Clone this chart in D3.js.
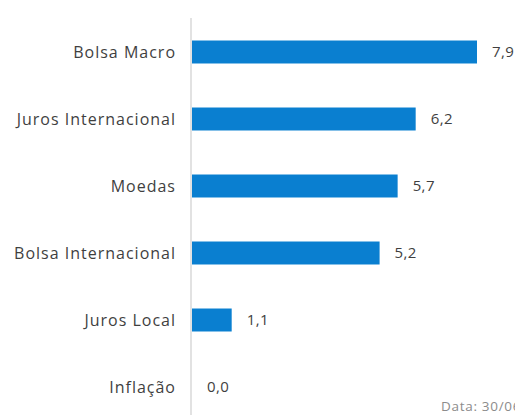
<!DOCTYPE html>
<html><head><meta charset="utf-8">
<script src="https://cdn.jsdelivr.net/npm/d3@7"></script>
<style>html,body{margin:0;padding:0;background:#fff;overflow:hidden}</style>
</head><body>
<svg id="c" width="515" height="415"></svg>
<script>
const categories = ["Bolsa Macro","Juros Internacional","Moedas","Bolsa Internacional","Juros Local","Inflação"];
const values = [7.9, 6.2, 5.7, 5.2, 1.1, 0.0];
const footnote = "Data: 30/06/2023";

const svg = d3.select("#c");
const font = "'Open Sans', sans-serif";
const x = d3.scaleLinear().domain([0, 7.9]).range([192, 477]);
const y = d3.scaleBand().domain(categories).range([18.5, 420.5]).paddingInner(0.657).paddingOuter(0.3285);

svg.selectAll("rect.bar").data(categories).enter().append("rect")
  .attr("class","bar")
  .attr("x", x(0))
  .attr("y", d => y(d))
  .attr("width", (d,i) => x(values[i]) - x(0))
  .attr("height", y.bandwidth())
  .attr("fill", "#0a7fd0");

svg.append("line").attr("x1",191).attr("x2",191).attr("y1",18).attr("y2",415)
  .attr("stroke","#d9d9d9").attr("stroke-width",1.5);

svg.selectAll("text.cat").data(categories).enter().append("text")
  .attr("class","cat")
  .attr("x", 176)
  .attr("y", d => y(d) + y.bandwidth()/2)
  .attr("dy","0.36em")
  .attr("text-anchor","end")
  .attr("font-family", font).attr("font-size", 16).attr("letter-spacing", 1.0).attr("fill","#3f3f3f")
  .text(d => d);

svg.selectAll("text.val").data(categories).enter().append("text")
  .attr("class","val")
  .attr("x", (d,i) => x(values[i]) + 15)
  .attr("y", d => y(d) + y.bandwidth()/2)
  .attr("dy","0.36em")
  .attr("font-family", font).attr("font-size", 15).attr("letter-spacing", 0.4).attr("fill","#3f3f3f")
  .text((d,i) => d3.format(".1f")(values[i]).replace(".", ","));

svg.append("text").attr("x", 441).attr("y", 411)
  .attr("font-family", font).attr("font-size", 13.5).attr("letter-spacing", 0.7).attr("fill","#8c8c8c")
  .text(footnote);
</script>
</body></html>
